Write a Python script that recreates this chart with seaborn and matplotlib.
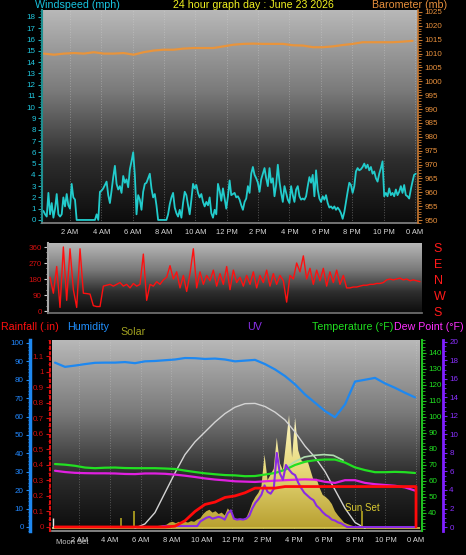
import numpy as np
import matplotlib
matplotlib.use("Agg")
import matplotlib.pyplot as plt
from matplotlib import font_manager
from matplotlib.colors import LinearSegmentedColormap
from matplotlib.ticker import MultipleLocator
import seaborn as sns

# ---------------- data ----------------
day_title = "24 hour graph day : June 23 2026"
hour_ticks = [2, 4, 6, 8, 10, 12, 14, 16, 18, 20, 22, 24]
hour_labels = ["2 AM", "4 AM", "6 AM", "8 AM", "10 AM", "12 PM",
               "2 PM", "4 PM", "6 PM", "8 PM", "10 PM", "0 AM"]

# windspeed (mph), a reading about every 6 minutes
wind_first_hr, wind_last_hr = 0.30, 24.06
windspeed = [
    0.8, 0.5, 0.3, 2.4, 0.5, 1.5, 0.2, 1.0, 2.3, 0.5,
    0.3, 0.5, 2.0, 1.2, 2.3, 1.3, 1.0, 3.2, 2.0, 1.8,
    0, 0, 0, 0, 0, 0, 0, 0, 0, 0,
    0, 0, 0.5, 0, 2.5, 2.6, 2.8, 3.1, 3.4, 2.2,
    1.5, 2.6, 3.8, 4.8, 3.2, 2.7, 3.0, 2.4, 3.9, 3.3,
    3.6, 2.9, 4.5, 5.2, 6.0, 4.0, 0.5, 2.2, 1.8, 0.9,
    2.5, 3.2, 3.3, 3.7, 4.1, 2.8, 2.0, 2.3, 1.3, 0,
    0, 0, 0, 0, 0, 0.5, 1.4, 2.0, 2.4, 1.1,
    0.6, 0.3, 0.9, 0.2, 1.5, 2.5, 2.2, 1.3, 0.5, 1.8,
    3.2, 2.8, 3.1, 2.4, 2.0, 2.3, 1.6, 1.2, 1.6, 1.3,
    2.0, 0.6, 0.2, 0.9, 0.5, 3.2, 2.6, 1.7, 2.8, 1.9,
    1.0, 2.1, 3.5, 2.2,
    2.3, 2.4, 2.0, 2.1, 1.8, 1.3, 0.9, 1.6, 1.9, 3.0,
    2.4, 4.1, 4.7, 4.0, 3.7, 3.3, 2.5, 3.6, 4.1, 4.6,
    3.7, 3.0, 4.6, 3.3, 3.7, 2.1, 3.1, 4.9, 3.4, 2.4,
    1.6, 3.0, 2.4, 1.8, 1.5, 3.0, 2.2, 1.6, 2.7, 3.0,
    2.1, 1.8, 1.9, 1.8, 2.1, 3.0, 3.8, 3.3, 4.0, 2.1,
    4.4, 2.7, 1.9, 1.6, 2.1, 1.8, 2.2, 1.5, 1.1, 1.2,
    1.0, 1.2, 0.9, 1.1, 0.9, 0.6, 0.1, 0.7, 1.6, 2.5,
    3.3, 3.1, 2.4, 3.0, 4.3, 4.6, 4.4, 4.5, 4.7, 5.0,
    4.6, 4.9, 4.4, 4.7, 4.1, 4.3, 3.7, 3.4, 4.1, 4.6,
    5.2, 2.1, 2.4, 2.1, 2.8, 2.2, 2.4, 2.1, 2.7, 2.2,
    2.5, 3.0, 2.4, 3.1, 2.2, 2.1, 1.9, 2.7, 3.4, 4.0,
    4.1,
]

# barometer (mb)
baro_first_hr, baro_last_hr = 0.34, 23.85
barometer = [
    1010.0, 1009.6, 1010.0, 1010.2, 1010.0, 1010.5, 1010.0, 1010.0, 1010.2, 1009.6,
    1010.5, 1011.1, 1011.4, 1011.4, 1011.8, 1012.0, 1012.0, 1012.0, 1012.6, 1013.2,
    1013.5, 1013.6, 1013.5, 1013.5, 1013.5, 1013.0, 1012.9, 1012.3, 1012.3, 1012.6,
    1013.1, 1013.5, 1014.1, 1014.1, 1014.1, 1014.1, 1014.3, 1014.6,
]

# wind direction (degrees)
dir_first_hr, dir_last_hr = 0.33, 24.07
wind_dir = [
    190, 100, 250, 20, 360, 60, 350, 120, 20, 350,
    100, 98, 95, 30, 25, 25, 140, 145, 150, 140,
    150, 160, 140, 150, 130, 155, 140, 150, 320, 60,
    150, 140, 165, 150, 175, 190, 255, 180, 220, 130,
    200, 110, 210, 350, 130, 220, 150, 200, 170, 230,
    140, 210, 150, 250, 120, 230, 160, 190, 140, 200,
    150, 220, 130, 200, 160, 230, 140, 210, 150, 200,
    170, 50, 200, 180, 270, 220, 310, 180, 240, 150,
    230, 170, 240, 140, 220, 160, 230, 150, 200, 130,
    130, 135, 135, 140, 145, 145, 150, 150, 155, 155,
    160, 175, 180, 175, 180, 185, 175, 180, 170, 175,
    170, 165,
]
compass_ticks = [0, 90, 180, 270, 360]
compass_labels = ["S", "W", "N", "E", "S"]

# bottom panel, one reading about every 40 minutes
grid_first_hr, grid_last_hr = 0.405, 23.935
humidity = [89.3, 87.0, 87.7, 88.5, 89.2, 89.3, 89.3, 89.6, 89.0, 90.0,
            90.2, 90.6, 91.0, 91.8, 91.7, 91.3, 91.5, 91.0, 90.0, 90.4,
            90.8, 88.5, 85.6, 82.0, 77.5, 72.0, 67.5, 63.0, 59.6, 66.6,
            79.0, 80.0, 81.0, 78.0, 75.6, 72.9, 70.4]
temperature = [70.6, 70.2, 69.5, 68.4, 68.0, 68.3, 68.4, 68.1, 68.0, 68.0,
               68.0, 67.8, 67.5, 66.5, 65.6, 64.8, 64.2, 63.7, 63.5, 63.0,
               63.1, 64.0, 65.0, 67.0, 70.0, 72.0, 73.0, 73.4, 73.4, 71.5,
               68.5, 66.8, 65.5, 65.5, 65.7, 65.5, 65.0]
dew_point = [66.4, 65.6, 65.1, 64.9, 64.8, 64.8, 64.7, 64.4, 64.3, 64.7,
             64.7, 64.5, 64.0, 63.3, 62.5, 61.6, 60.9, 60.4, 59.8, 59.6,
             59.4, 59.8, 60.2, 60.5, 60.8, 61.0, 60.8, 59.5, 58.8, 60.5,
             60.5, 58.8, 58.0, 57.5, 57.0, 56.0, 54.0]
rainfall = [0, 0, 0, 0, 0, 0, 0, 0, 0, 0,
            0, 0.0, 0.005, 0.04, 0.10, 0.145, 0.16, 0.19, 0.20, 0.22,
            0.25, 0.25, 0.25, 0.26, 0.26, 0.26, 0.26, 0.26, 0.26, 0.26,
            0.26, 0.26, 0.26, 0.26, 0.26, 0.26, 0.26]
rain_reset_hr = 24.0

heat_first_hr, heat_last_hr = 15.44, 19.23
heat_index = [68.0, 72.0, 75.0, 76.0, 76.5, 76.0, 73.0]

# solar (W/m2) and UV index, every 0.2 h from 5:30
solar_first_hr, solar_step_hr = 5.5, 0.2
solar = [0, 5, 8, 5, 10, 12, 8, 12, 15, 18,
         20, 25, 40, 45, 35, 45, 40, 45, 40, 50,
         45, 60, 70, 100, 120, 130, 110, 120, 100, 110,
         90, 140, 110, 70, 60, 65, 60, 70, 120, 180,
         220, 250, 300, 520, 340, 380, 420, 640, 460, 410,
         600, 800, 500, 780, 550, 480, 460, 480, 410, 340,
         350, 285, 235, 220, 200, 170, 120, 90, 65, 40,
         30, 22, 15, 8, 4, 2, 0]
uv = [0, 0, 0, 0, 0, 0, 0, 0, 0, 0,
      0.1, 0.1, 0.1, 0.1, 0.1, 0.1, 0.1, 0.1, 0.1, 0.1,
      0.1, 0.1, 0.6, 0.8, 1.0, 1.1, 0.9, 1.0, 1.1, 1.0,
      0.8, 1.5, 1.8, 0.9, 0.8, 0.85, 0.8, 0.9, 1.2, 2.0,
      2.6, 3.0, 3.5, 4.5, 3.8, 3.6, 4.1, 8.0, 5.8, 5.1,
      6.7, 6.2, 5.8, 5.6, 4.8, 4.2, 3.7, 3.4, 3.1, 2.9,
      2.3, 2.0, 1.6, 1.3, 1.1, 0.8, 0.7, 0.5, 0.4, 0.2,
      0, 0, 0, 0, 0, 0, 0]
uv_end_hr = 24.0

# clear-sky solar curve
sun_first_hr, sun_last_hr = 5.63, 20.67
sun_max = [0, 30, 110, 250, 390, 520, 610, 680, 750, 810, 855, 880,
           882, 860, 820, 765, 680, 580, 500, 400, 270, 140, 40, 0]

moonset_hr = 0.27
moonrise_hr = 4.72
sunrise_hr = 5.57
sunset_hr = 20.47

# ---------------- styling ----------------
sns.set_theme(style="dark", rc={"axes.facecolor": "black",
                                "figure.facecolor": "black"})
names = {f.name for f in font_manager.fontManager.ttflist}
tick_font = "Liberation Sans Narrow" if "Liberation Sans Narrow" in names else "Liberation Sans"
plt.rcParams["font.family"] = ["Liberation Sans", "DejaVu Sans"]
TICK = 6.6 if tick_font == "Liberation Sans Narrow" else 5.8

W, H = 466, 555
fig = plt.figure(figsize=(W / 100, H / 100), dpi=100, facecolor="black")


def box(x0, y0, x1, y1):
    return [x0 / W, 1 - y1 / H, (x1 - x0) / W, (y1 - y0) / H]


def backdrop(ax, colors):
    cmap = LinearSegmentedColormap.from_list("bg", colors)
    ax.imshow(np.linspace(0, 1, 256).reshape(-1, 1), cmap=cmap, origin="lower",
              extent=[0, 1, 0, 1], transform=ax.transAxes, aspect="auto",
              zorder=0, interpolation="bilinear")


def hide_spines(ax, keep=()):
    for k, s in ax.spines.items():
        s.set_visible(k in keep)


def style_ticks(ax, axis, color, labelcolor, size=TICK, length=3, minor_len=1.8):
    ax.tick_params(axis=axis, which="major", colors=color, labelcolor=labelcolor,
                   labelsize=size, length=length, width=0.8, pad=1.5)
    ax.tick_params(axis=axis, which="minor", colors=color, length=minor_len, width=0.6)
    lab = ax.get_xticklabels() if axis == "x" else ax.get_yticklabels()
    for t in lab:
        t.set_fontfamily(tick_font)


def hrs(first, last, vals):
    return np.linspace(first, last, len(vals))


bg = [(0.0, "#0c0c0c"), (0.3, "#2e2e2e"), (0.62, "#7a7a7a"), (1.0, "#b8b8b8")]

# ---------------- top panel: windspeed + barometer ----------------
ax1 = fig.add_axes(box(42, 10, 418, 223))
backdrop(ax1, bg)
ax1.grid(axis="x", color="#dddddd", linestyle=":", linewidth=0.7, alpha=0.35)
sns.lineplot(x=hrs(wind_first_hr, wind_last_hr, windspeed), y=windspeed, ax=ax1,
             color="#22cccc", linewidth=1.3, estimator=None, sort=False)
ax1.set_xlim(0.21, 24.2)
ax1.set_ylim(-0.27, 18.62)
ax1.set_xticks(hour_ticks, hour_labels)
ax1.xaxis.set_minor_locator(MultipleLocator(0.5))
ax1.yaxis.set_major_locator(MultipleLocator(1))
ax1.yaxis.set_minor_locator(MultipleLocator(0.25))
style_ticks(ax1, "y", "#22b0b8", "#22c8e0")
style_ticks(ax1, "x", "#c0c0c0", "#d8d8d8", size=TICK - 0.4)
hide_spines(ax1, ("left", "bottom"))
ax1.spines["left"].set_color("#1f8f8f")
ax1.spines["left"].set_linewidth(1.5)
ax1.spines["bottom"].set_color("#808080")

ax1b = ax1.twinx()
sns.lineplot(x=hrs(baro_first_hr, baro_last_hr, barometer), y=barometer, ax=ax1b,
             color="#e8943c", linewidth=1.6, estimator=None, sort=False)
ax1b.set_ylim(948.92, 1025.72)
ax1b.yaxis.set_major_locator(MultipleLocator(5))
ax1b.yaxis.set_minor_locator(MultipleLocator(1))
style_ticks(ax1b, "y", "#c87830", "#e8903c")
hide_spines(ax1b, ("right",))
ax1b.spines["right"].set_color("#c87830")
ax1b.spines["right"].set_linewidth(1.2)
for a in (ax1, ax1b):
    a.set_xlabel("")
    a.set_ylabel("")

# ---------------- middle panel: wind direction ----------------
ax2 = fig.add_axes(box(48, 243, 422, 313))
backdrop(ax2, bg)
sns.lineplot(x=hrs(dir_first_hr, dir_last_hr, wind_dir), y=wind_dir, ax=ax2,
             color="#ff1010", linewidth=1.0, estimator=None, sort=False)
ax2.set_xlim(0.2, 24.2)
ax2.set_ylim(-11.25, 382.5)
ax2.set_xticks([])
ax2.set_yticks(compass_ticks)
ax2.yaxis.set_minor_locator(MultipleLocator(30))
style_ticks(ax2, "y", "#d0d0d0", "#d01010")
hide_spines(ax2, ("left", "bottom"))
ax2.spines["left"].set_color("#a8a8a8")
ax2.spines["left"].set_linewidth(1.5)
ax2.spines["bottom"].set_color("#707070")
ax2.set_ylabel("")
ax2b = ax2.twinx()
ax2b.set_ylim(ax2.get_ylim())
ax2b.set_yticks(compass_ticks, compass_labels)
ax2b.tick_params(axis="y", length=0, pad=8.5, labelsize=9)
for t in ax2b.get_yticklabels():
    t.set_color("#ff1a1a")
hide_spines(ax2b)

# ---------------- bottom panel ----------------
ax3 = fig.add_axes(box(52, 340, 420, 531))
backdrop(ax3, bg)
ax3.grid(axis="x", color="#dddddd", linestyle=":", linewidth=0.7, alpha=0.3)
ax3.set_xlim(0.21, 24.26)

ax_sol = ax3.twinx()
ax_temp = ax3.twinx()
ax_uv = ax3.twinx()
ax_rain = ax3.twinx()
ax_hum = ax3.twinx()

# solar: gradient filled area + clear-sky curve
sol_h = solar_first_hr + solar_step_hr * np.arange(len(solar))
poly = ax_sol.fill_between(sol_h, 0, solar, color="none", linewidth=0)
sol_cmap = LinearSegmentedColormap.from_list("sol", ["#b8a030", "#e6d878", "#fff8c8"])
im = ax_sol.imshow(np.linspace(0, 1, 128).reshape(-1, 1), cmap=sol_cmap, origin="lower",
                   aspect="auto", extent=[sol_h[0], sol_h[-1], 0, 800], zorder=1)
im.set_clip_path(poly.get_paths()[0], transform=ax_sol.transData)
ax_sol.axhline(0, color="#d8c850", linewidth=1.2, zorder=1)
sns.lineplot(x=hrs(sun_first_hr, sun_last_hr, sun_max), y=sun_max, ax=ax_sol,
             color="#d4d4d4", linewidth=1.0, estimator=None, sort=False)
ax_sol.vlines([moonset_hr], 0, 75, color="#e8e8e8", linewidth=1)
ax_sol.vlines([moonrise_hr], 0, 75, color="#b0a020", linewidth=1.2)
ax_sol.vlines([sunrise_hr, sunset_hr], 0, 120, color="#b8a820", linewidth=1.2)
ax_sol.text(sunset_hr, 145, "Sun Set", color="#d8c830", fontsize=7, ha="center", va="center")
ax_sol.set_ylim(-20, 1330)
ax_sol.set_yticks([])
hide_spines(ax_sol)

# temperature, dew point
sns.lineplot(x=hrs(heat_first_hr, heat_last_hr, heat_index), y=heat_index, ax=ax_temp,
             color="#b0dcb0", linewidth=1.2, estimator=None, sort=False)
sns.lineplot(x=hrs(grid_first_hr, grid_last_hr, temperature), y=temperature, ax=ax_temp,
             color="#22e022", linewidth=1.6, estimator=None, sort=False)
sns.lineplot(x=hrs(grid_first_hr, grid_last_hr, dew_point), y=dew_point, ax=ax_temp,
             color="#e020e0", linewidth=1.6, estimator=None, sort=False)
ax_temp.set_ylim(28.75, 148.1)
ax_temp.set_yticks(range(40, 141, 10))
ax_temp.yaxis.set_minor_locator(MultipleLocator(2))
style_ticks(ax_temp, "y", "#20c020", "#22e022")
hide_spines(ax_temp, ("right",))
ax_temp.spines["right"].set_position(("axes", 1 + 2 / 368))
ax_temp.spines["right"].set_color("#20c020")
ax_temp.spines["right"].set_linewidth(1.5)

# UV
uv_h = np.append(solar_first_hr + solar_step_hr * np.arange(len(uv)), uv_end_hr)
sns.lineplot(x=uv_h, y=np.append(uv, 0), ax=ax_uv,
             color="#8a2be2", linewidth=1.5, estimator=None, sort=False)
ax_uv.set_ylim(-0.43, 20.2)
ax_uv.set_yticks(range(0, 21, 2))
ax_uv.yaxis.set_minor_locator(MultipleLocator(0.5))
style_ticks(ax_uv, "y", "#7f20ff", "#8a30ff")
hide_spines(ax_uv, ("right",))
ax_uv.spines["right"].set_position(("axes", 1 + 23 / 368))
ax_uv.spines["right"].set_color("#7f20ff")
ax_uv.spines["right"].set_linewidth(2)

# rainfall (daily total, resets at midnight)
rain_h = np.append(hrs(grid_first_hr, grid_last_hr, rainfall), [rain_reset_hr, rain_reset_hr])
sns.lineplot(x=rain_h, y=np.append(rainfall, [rainfall[-1], 0]), ax=ax_rain,
             color="#ff0a0a", linewidth=2, estimator=None, sort=False)
ax_rain.set_ylim(-0.026, 1.203)
ax_rain.set_yticks(np.round(np.arange(0, 1.15, 0.1), 1))
ax_rain.yaxis.set_major_formatter(plt.FuncFormatter(lambda v, p: f"{v:g}"))
ax_rain.yaxis.set_minor_locator(MultipleLocator(0.05))
ax_rain.yaxis.set_ticks_position("left")
ax_rain.yaxis.set_label_position("left")
style_ticks(ax_rain, "y", "#d01010", "#d01010")
hide_spines(ax_rain, ("left",))
ax_rain.spines["left"].set_position(("axes", -2 / 368))
ax_rain.spines["left"].set_color("#e01010")
ax_rain.spines["left"].set_linestyle(":")
ax_rain.spines["left"].set_linewidth(1.5)

# humidity
sns.lineplot(x=hrs(grid_first_hr, grid_last_hr, humidity), y=humidity, ax=ax_hum,
             color="#1e88f0", linewidth=1.6, estimator=None, sort=False)
ax_hum.set_ylim(-2.2, 101.6)
ax_hum.set_yticks(range(0, 101, 10))
ax_hum.yaxis.set_minor_locator(MultipleLocator(2))
ax_hum.yaxis.set_ticks_position("left")
ax_hum.yaxis.set_label_position("left")
style_ticks(ax_hum, "y", "#1e88f0", "#2288ff")
hide_spines(ax_hum, ("left",))
ax_hum.spines["left"].set_position(("axes", -22 / 368))
ax_hum.spines["left"].set_color("#1e88f0")
ax_hum.spines["left"].set_linewidth(2.5)

for a in (ax3, ax_sol, ax_temp, ax_uv, ax_rain, ax_hum):
    a.set_xlabel("")
    a.set_ylabel("")

ax3.set_xticks(hour_ticks, hour_labels)
ax3.xaxis.set_minor_locator(MultipleLocator(0.5))
style_ticks(ax3, "x", "#c0c0c0", "#d8d8d8", size=TICK - 0.4)
ax3.tick_params(axis="y", left=False, right=False, labelleft=False, labelright=False)
hide_spines(ax3, ("bottom",))
ax3.spines["bottom"].set_color("#909090")
ax3.annotate("Moon Set", xy=(moonset_hr, 0), xycoords=("data", "axes fraction"),
             xytext=(3, -11), textcoords="offset pixels", color="#c8c8c8",
             fontsize=TICK - 0.4, family=tick_font, ha="left", va="center")

# ---------------- header texts ----------------
def ftext(x, y, s, color, ha="left", size=7.7):
    fig.text(x / W, 1 - y / H, s, color=color, ha=ha, va="center", fontsize=size)


ftext(35, 5, "Windspeed (mph)", "#18c4e0")
ftext(253, 5, day_title, "#f0f020", ha="center")
ftext(372, 5, "Barometer (mb)", "#e8903c")
ftext(1, 327, "Rainfall (.in)", "#ff1010")
ftext(67, 327, "Humidity", "#2090ff")
ftext(120, 332, "Solar", "#a0a020")
ftext(247, 327, "UV", "#8a30e8")
ftext(312, 327, "Temperature (\u00b0F)", "#20e020")
ftext(394, 327, "Dew Point (\u00b0F)", "#ff30ff")

fig.savefig("out.png", dpi=100, facecolor="black")
